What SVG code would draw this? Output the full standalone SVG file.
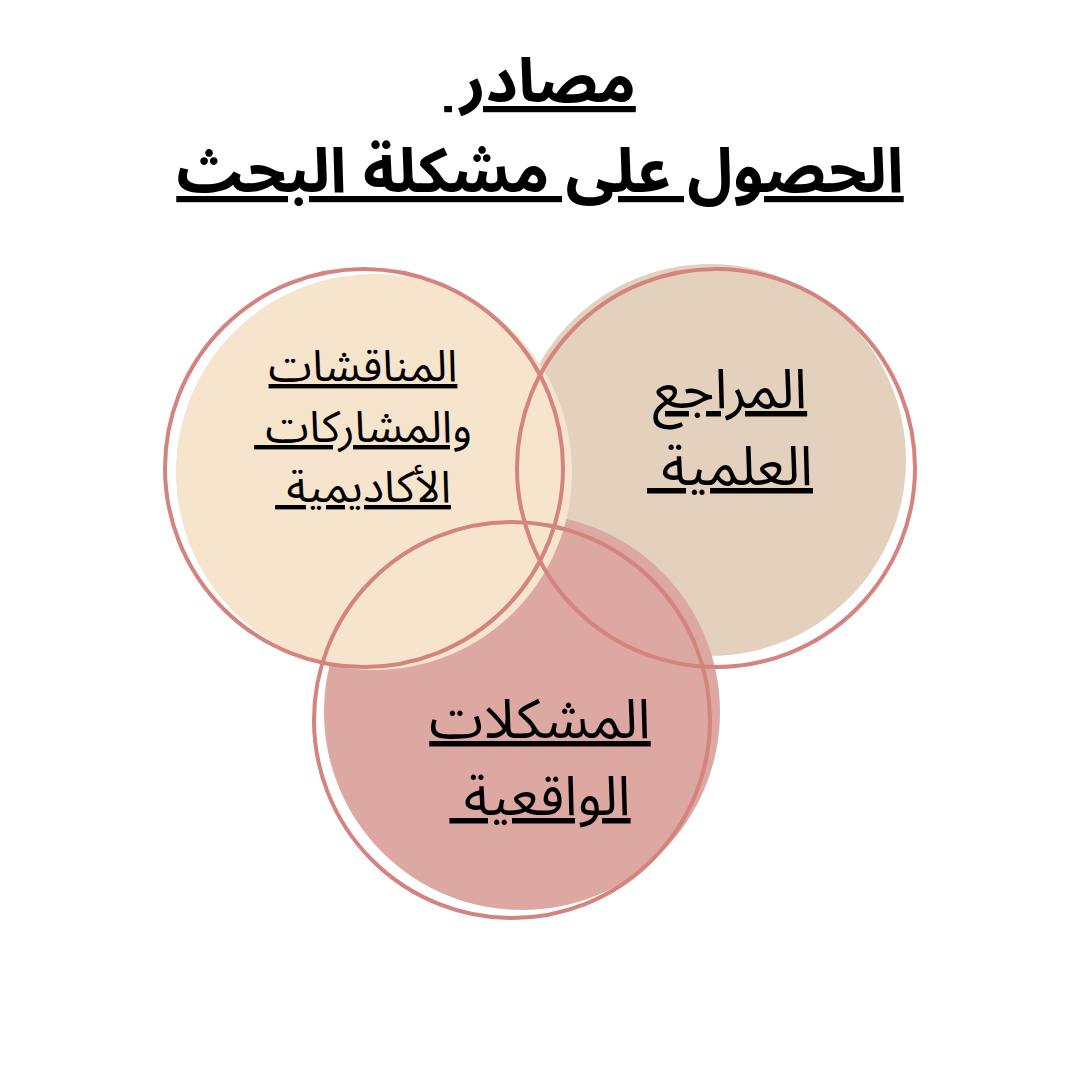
<svg xmlns="http://www.w3.org/2000/svg" width="1080" height="1080" viewBox="0 0 1080 1080">
<style>
text{font-family:"Noto Sans Arabic","Noto Sans","DejaVu Sans",sans-serif;text-anchor:middle;direction:rtl;text-decoration:underline;fill:#000}
.t{font-size:62px;font-weight:bold}
.l{font-size:44px}
.r{font-size:55px}
.ring{fill:none;stroke:#D4837F;stroke-width:4}
</style>
<rect width="1080" height="1080" fill="#fff"/>
<g id="title">
<text class="t" x="540" y="102" xml:space="preserve">مصادر </text>
<text class="t" x="540" y="192">الحصول على مشكلة البحث</text>
</g>
<g id="fills">
<circle cx="710" cy="460" r="196" fill="#E3D1BD"/>
<circle cx="522" cy="712" r="198" fill="#DDA7A2"/>
<circle cx="374" cy="472" r="198" fill="#F7E4CC"/>
</g>
<g id="rings">
<circle class="ring" cx="364" cy="468" r="199"/>
<circle class="ring" cx="716" cy="468" r="199"/>
<circle class="ring" cx="512" cy="720" r="198"/>
</g>
<g id="node-discussions">
<text class="l" x="363" y="381">المناقشات</text>
<text class="l" x="363" y="442" xml:space="preserve">والمشاركات </text>
<text class="l" x="363" y="502" xml:space="preserve">الأكاديمية </text>
</g>
<g id="node-references">
<text class="r" x="730" y="408">المراجع</text>
<text class="r" x="730" y="485" xml:space="preserve">العلمية </text>
</g>
<g id="node-problems">
<text class="r" x="540" y="738">المشكلات</text>
<text class="r" x="540" y="815" xml:space="preserve">الواقعية </text>
</g>
</svg>
